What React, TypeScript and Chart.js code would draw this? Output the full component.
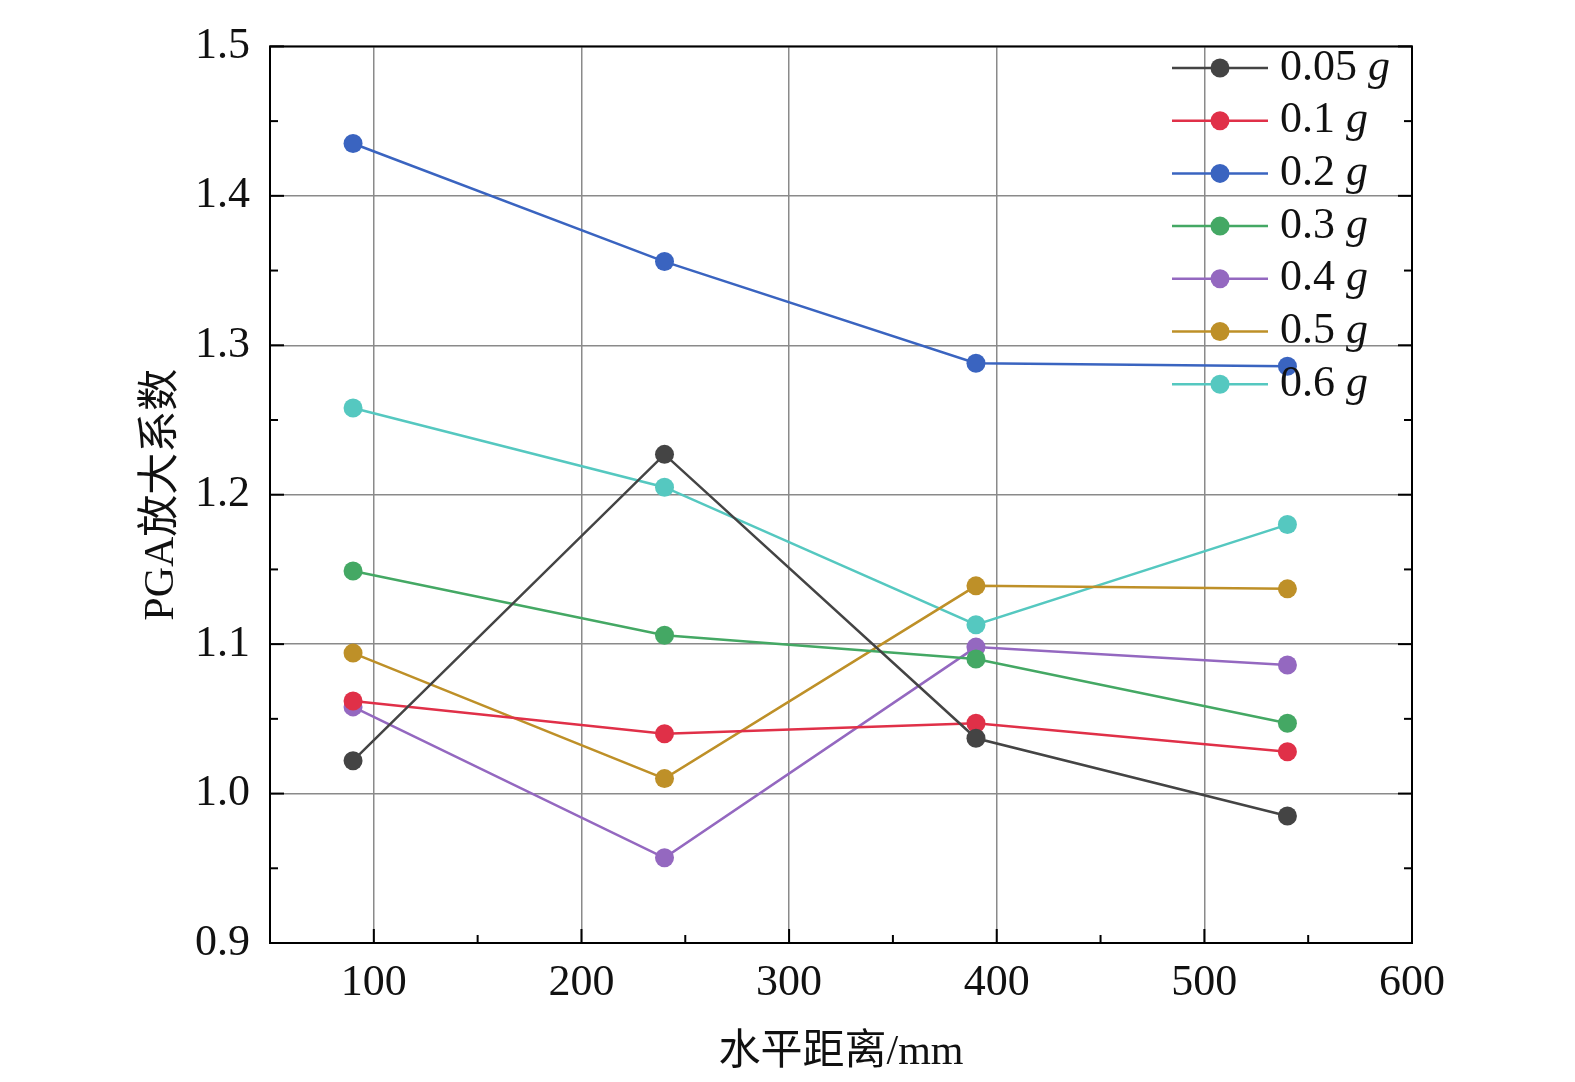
import React, { useEffect, useRef } from "react";
import { Chart, registerables } from "chart.js";
Chart.register(...registerables);

const xValues = [90, 240, 390, 540];
const seriesNames = ["0.05", "0.1", "0.2", "0.3", "0.4", "0.5", "0.6"];
const s005 = [1.022, 1.227, 1.037, 0.985];
const s01 = [1.062, 1.040, 1.047, 1.028];
const s02 = [1.435, 1.356, 1.288, 1.286];
const s03 = [1.149, 1.106, 1.090, 1.047];
const s04 = [1.058, 0.957, 1.098, 1.086];
const s05 = [1.094, 1.010, 1.139, 1.137];
const s06 = [1.258, 1.205, 1.113, 1.180];
const colors = ["#444444", "#e03048", "#3a64c0", "#44a864", "#9468c0", "#be9028", "#55c8c0"];
const xTicks = [100, 200, 300, 400, 500, 600];
const yTicks = [0.9, 1.0, 1.1, 1.2, 1.3, 1.4, 1.5];

const FONT = "'Liberation Serif', 'Noto Sans CJK SC', serif";

const tickPlugin = {
  id: "ticksIn",
  afterDraw(chart: any) {
    const { ctx, chartArea: a, scales } = chart;
    ctx.save();
    ctx.strokeStyle = "#000";
    ctx.lineWidth = 2;
    const xs = scales.x, ys = scales.y;
    for (let v = 100; v <= 600; v += 50) {
      const px = xs.getPixelForValue(v);
      const len = v % 100 === 0 ? 14 : 8;
      ctx.beginPath(); ctx.moveTo(px, a.bottom); ctx.lineTo(px, a.bottom - len); ctx.stroke();
    }
    for (let i = 0; i <= 12; i++) {
      const v = 0.9 + i * 0.05;
      const py = ys.getPixelForValue(v);
      const len = i % 2 === 0 ? 14 : 8;
      ctx.beginPath(); ctx.moveTo(a.left, py); ctx.lineTo(a.left + len, py); ctx.stroke();
      ctx.beginPath(); ctx.moveTo(a.right, py); ctx.lineTo(a.right - len, py); ctx.stroke();
    }
    ctx.strokeRect(a.left, a.top, a.right - a.left, a.bottom - a.top);
    const y0 = 68, dy = 52.7;
    seriesNames.forEach((n, i) => {
      const y = y0 + i * dy;
      ctx.strokeStyle = colors[i];
      ctx.lineWidth = 2.5;
      ctx.beginPath(); ctx.moveTo(1172, y); ctx.lineTo(1268, y); ctx.stroke();
      ctx.fillStyle = colors[i];
      ctx.beginPath(); ctx.arc(1220, y, 9.5, 0, Math.PI * 2); ctx.fill();
      ctx.fillStyle = "#111";
      ctx.textBaseline = "middle";
      ctx.font = `44px ${FONT}`;
      const t = n + " ";
      ctx.fillText(t, 1280, y);
      const w = ctx.measureText(t).width;
      ctx.font = `italic 44px ${FONT}`;
      ctx.fillText("g", 1280 + w, y);
    });
    ctx.restore();
  },
};

export default function App() {
  const ref = useRef<HTMLCanvasElement>(null);
  useEffect(() => {
    const all = [s005, s01, s02, s03, s04, s05, s06];
    const chart = new Chart(ref.current!, {
      type: "line",
      data: {
        datasets: all.map((d, i) => ({
          label: seriesNames[i] + " g",
          data: d.map((y, j) => ({ x: xValues[j], y })),
          borderColor: colors[i],
          backgroundColor: colors[i],
          pointBackgroundColor: colors[i],
          pointBorderWidth: 0,
          pointRadius: 9.5,
          borderWidth: 2.5,
          tension: 0,
        })),
      },
      plugins: [tickPlugin],
      options: {
        animation: false,
        responsive: false,
        layout: { padding: { top: 5, right: 163, left: 133, bottom: 0 } },
        plugins: { legend: { display: false }, tooltip: { enabled: false } },
        scales: {
          x: {
            type: "linear", min: 50, max: 600,
            afterBuildTicks: (s: any) => { s.ticks = xTicks.map((v) => ({ value: v })); },
            afterFit: (s: any) => { s.height = 139; },
            grid: { color: "#8a8a8a", lineWidth: 1.5, drawTicks: false },
            border: { display: false },
            ticks: { color: "#111", font: { family: FONT, size: 44 }, padding: 14 },
            title: { display: true, text: "水平距离/mm", color: "#111", font: { family: FONT, size: 42 }, padding: { top: 0 } },
          },
          y: {
            type: "linear", min: 0.9, max: 1.5,
            afterBuildTicks: (s: any) => { s.ticks = yTicks.map((v) => ({ value: v })); },
            afterFit: (s: any) => { s.width = 137; },
            grid: { color: "#8a8a8a", lineWidth: 1.5, drawTicks: false },
            border: { display: false },
            ticks: { color: "#111", font: { family: FONT, size: 44 }, padding: 20, callback: (v: any) => Number(v).toFixed(1) },
            title: { display: true, text: "PGA放大系数", color: "#111", font: { family: FONT, size: 42 }, padding: { bottom: 0 } },
          },
        },
      } as any,
    });
    return () => chart.destroy();
  }, []);
  return (
    <div style={{ position: "absolute", left: 0, top: 0, background: "#fff" }}>
      <canvas ref={ref} width={1575} height={1082} style={{ width: 1575, height: 1082, display: "block" }} />
    </div>
  );
}
